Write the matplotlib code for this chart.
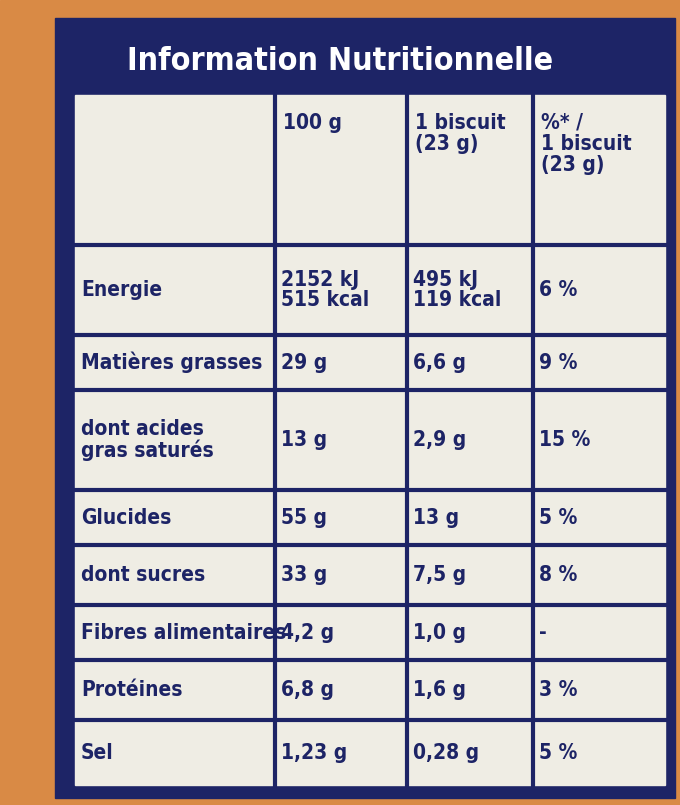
import matplotlib.pyplot as plt
from matplotlib.patches import Rectangle

title = "Information Nutritionnelle"
headers = ["100 g", "1 biscuit\n(23 g)", "%* /\n1 biscuit\n(23 g)"]
nutrients = ["Energie", "Matières grasses", "dont acides\ngras saturés", "Glucides",
             "dont sucres", "Fibres alimentaires", "Protéines", "Sel"]
per_100g = ["2152 kJ\n515 kcal", "29 g", "13 g", "55 g", "33 g", "4,2 g", "6,8 g", "1,23 g"]
per_biscuit = ["495 kJ\n119 kcal", "6,6 g", "2,9 g", "13 g", "7,5 g", "1,0 g", "1,6 g", "0,28 g"]
percent = ["6 %", "9 %", "15 %", "5 %", "8 %", "-", "3 %", "5 %"]

col_x = [75, 275, 407, 533, 665]
row_y = [95, 245, 335, 390, 490, 545, 605, 660, 720, 785]

navy = "#1d2466"
cream = "#efede4"
orange = "#d98a45"
fam = ["DejaVu Sans"]

fig = plt.figure(figsize=(6.8, 8.05), dpi=100)
ax = fig.add_axes([0, 0, 1, 1])
ax.set_xlim(0, 680)
ax.set_ylim(805, 0)
ax.axis("off")

ax.add_patch(Rectangle((0, 0), 680, 805, color=orange))
ax.add_patch(Rectangle((55, 18), 620, 780, color=navy))
ax.add_patch(Rectangle((col_x[0], row_y[0]), col_x[-1] - col_x[0], row_y[-1] - row_y[0], color=cream))
ax.text(340, 62, title, color="white", fontsize=23, fontweight="bold", family=fam,
        fontstretch="condensed", ha="center", va="center")

for x in col_x[1:-1]:
    ax.plot([x, x], [row_y[0], row_y[-1]], color=navy, lw=3)
for y in row_y[1:-1]:
    ax.plot([col_x[0], col_x[-1]], [y, y], color=navy, lw=3)

kw = dict(color=navy, fontsize=15, fontweight="bold", family=fam, fontstretch="condensed",
          linespacing=1.05)
for j, h in enumerate(headers):
    ax.text(col_x[j + 1] + 8, row_y[0] + 18, h, va="top", **kw)

for i in range(len(nutrients)):
    yc = (row_y[i + 1] + row_y[i + 2]) / 2
    for j, v in enumerate([nutrients[i], per_100g[i], per_biscuit[i], percent[i]]):
        ax.text(col_x[j] + 6, yc, v, va="center", **kw)

fig.savefig("out.png", dpi=100)
